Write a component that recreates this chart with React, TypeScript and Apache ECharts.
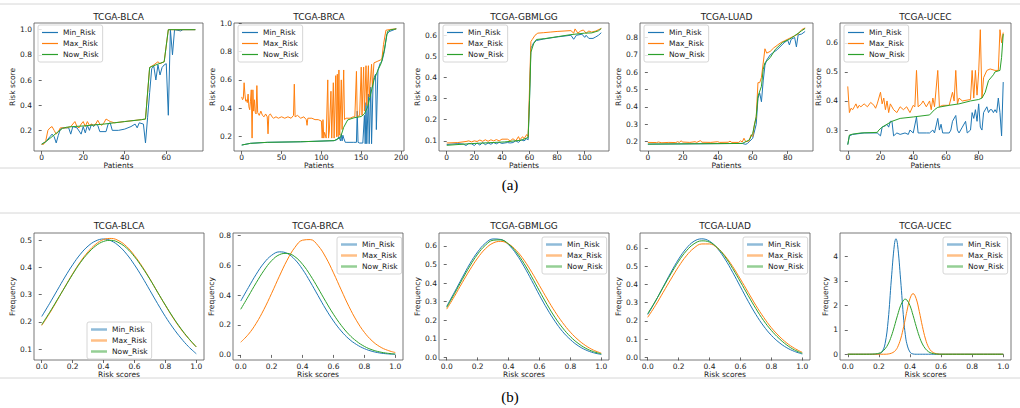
import React, { useEffect, useRef } from "react";
import * as echarts from "echarts";

// ---------- names & labels ----------
const seriesNames = ["Min_Risk", "Max_Risk", "Now_Risk"];
const seriesColors = ["#1f77b4", "#ff7f0e", "#2ca02c"];
const datasetNames = ["TCGA-BLCA", "TCGA-BRCA", "TCGA-GBMLGG", "TCGA-LUAD", "TCGA-UCEC"];
const captions = ["(a)", "(b)"];
const topXLabel = "Patients";
const topYLabel = "Risk score";
const bottomXLabel = "Risk scores";
const bottomYLabel = "Frequency";

// ---------- top row: risk score per patient ([patient, score]) ----------
const blcaMin = [[0,0.09],[2,0.11],[4,0.15],[5,0.17],[6,0.15],[7,0.10],[8,0.16],[9,0.21],[10,0.22],[13,0.22],[14,0.17],[15,0.23],[17,0.22],[19,0.17],[20,0.23],[21,0.18],[22,0.24],[23,0.2],[24,0.25],[25,0.23],[26,0.25],[27,0.24],[28,0.19],[31,0.19],[32,0.25],[33,0.26],[34,0.2],[37,0.2],[40,0.21],[43,0.23],[45,0.25],[46,0.22],[47,0.26],[49,0.25],[50,0.10],[51,0.3],[52,0.5],[53,0.69],[54,0.71],[55,0.6],[56,0.72],[57,0.64],[58,0.7],[59,0.72],[60,0.73],[61,0.32],[62,1.0],[63,0.8],[64,1.0],[67,0.99],[68,1.0],[74,1.0]];
const blcaMax = [[0,0.09],[1,0.09],[2,0.12],[3,0.2],[4,0.22],[5,0.23],[6,0.2],[7,0.17],[8,0.19],[9,0.22],[10,0.22],[12,0.22],[14,0.23],[16,0.27],[17,0.23],[18,0.22],[19,0.25],[20,0.27],[21,0.23],[22,0.27],[23,0.24],[24,0.25],[25,0.24],[26,0.25],[27,0.28],[28,0.25],[29,0.24],[30,0.26],[31,0.29],[32,0.28],[33,0.27],[35,0.26],[40,0.27],[48,0.285],[50,0.29],[52,0.70],[54,0.72],[56,0.745],[57,0.73],[59,0.745],[61,1.0],[74,1.0]];
const blcaNow = [[0,0.09],[2,0.11],[5,0.15],[8,0.19],[10,0.215],[12,0.225],[15,0.23],[20,0.235],[30,0.25],[40,0.27],[48,0.285],[50,0.29],[52,0.70],[55,0.72],[59,0.745],[61,1.0],[74,1.0]];

const brcaMin = [[0,0.141],[11,0.153],[32,0.16],[74,0.164],[116,0.172],[120,0.18],[122,0.2],[124,0.17],[125,0.22],[126,0.17],[127,0.21],[128,0.19],[130,0.16],[132,0.16],[140,0.16],[144,0.16],[145,0.38],[146,0.16],[148,0.155],[152,0.155],[154,0.35],[155,0.15],[156,0.44],[157,0.15],[159,0.5],[160,0.15],[162,0.55],[163,0.15],[165,0.6],[168,0.64],[169,0.25],[171,0.67],[174,0.72],[176,0.73],[179,0.8],[182,0.92],[185,0.94],[194,0.96]];
const brcaMax = [[0,0.48],[1,0.46],[2,0.47],[3,0.58],[4,0.5],[5,0.45],[6,0.46],[7,0.44],[8,0.5],[9,0.41],[10,0.39],[11,0.45],[12,0.53],[13,0.19],[14,0.53],[15,0.38],[16,0.46],[17,0.37],[18,0.36],[19,0.56],[20,0.37],[22,0.35],[24,0.38],[26,0.35],[28,0.34],[30,0.36],[32,0.34],[33,0.22],[34,0.35],[36,0.36],[38,0.34],[40,0.33],[43,0.34],[46,0.33],[50,0.34],[54,0.33],[58,0.34],[62,0.33],[65,0.35],[66,0.57],[67,0.34],[70,0.35],[74,0.33],[78,0.34],[81,0.32],[82,0.28],[83,0.33],[88,0.33],[92,0.32],[96,0.32],[100,0.31],[101,0.19],[102,0.32],[103,0.19],[104,0.23],[106,0.19],[108,0.6],[109,0.19],[110,0.24],[112,0.52],[113,0.19],[115,0.58],[116,0.19],[118,0.63],[119,0.2],[120,0.64],[121,0.2],[122,0.67],[123,0.21],[125,0.6],[126,0.25],[128,0.67],[129,0.32],[131,0.33],[136,0.33],[140,0.34],[142,0.34],[144,0.66],[145,0.34],[148,0.35],[150,0.69],[151,0.35],[153,0.69],[154,0.38],[156,0.7],[157,0.42],[159,0.7],[160,0.48],[163,0.71],[164,0.55],[166,0.72],[170,0.73],[174,0.74],[176,0.75],[178,0.85],[181,0.95],[186,0.955],[194,0.96]];
const brcaNow = [[0,0.141],[11,0.153],[32,0.16],[74,0.164],[116,0.172],[124,0.195],[128,0.266],[133,0.318],[141,0.333],[150,0.342],[154,0.361],[158,0.408],[162,0.503],[166,0.598],[171,0.669],[175,0.716],[179,0.811],[183,0.941],[187,0.953],[194,0.96]];

const gbmMin = [[0,0.083],[8,0.087],[12,0.085],[14,0.078],[16,0.088],[18,0.086],[20,0.078],[22,0.09],[24,0.08],[26,0.092],[28,0.082],[30,0.09],[32,0.084],[34,0.092],[36,0.086],[38,0.093],[40,0.088],[44,0.092],[46,0.09],[48,0.092],[50,0.1],[52,0.093],[54,0.105],[56,0.1],[58,0.11],[59,0.105],[60,0.3],[61,0.54],[62,0.55],[63,0.565],[65,0.575],[70,0.582],[80,0.592],[90,0.6],[92,0.581],[94,0.6],[98,0.605],[100,0.59],[101,0.6],[103,0.585],[106,0.585],[108,0.592],[110,0.6],[112,0.612]];
const gbmMax = [[0,0.09],[8,0.092],[14,0.097],[16,0.1],[18,0.095],[20,0.1],[22,0.097],[24,0.104],[26,0.098],[28,0.105],[30,0.098],[32,0.105],[34,0.1],[36,0.106],[38,0.1],[40,0.108],[44,0.108],[46,0.1],[48,0.11],[50,0.1],[52,0.12],[53,0.105],[55,0.12],[56,0.11],[58,0.13],[59,0.12],[60,0.35],[61,0.57],[62,0.58],[64,0.6],[66,0.61],[70,0.612],[75,0.615],[80,0.618],[85,0.62],[90,0.622],[92,0.61],[93,0.63],[95,0.61],[97,0.62],[99,0.625],[101,0.61],[103,0.62],[105,0.615],[108,0.62],[112,0.632]];
const gbmNow = [[0,0.079],[18,0.087],[42,0.095],[54,0.103],[59,0.116],[60,0.29],[61,0.52],[63,0.56],[65,0.58],[71,0.584],[81,0.594],[90,0.603],[100,0.61],[105,0.611],[110,0.621],[112,0.632]];

const luadMin = [[0,0.186],[54,0.19],[56,0.185],[57,0.19],[58,0.2],[60,0.22],[62,0.3],[63,0.45],[64,0.48],[65,0.43],[66,0.55],[67,0.64],[68,0.67],[70,0.7],[74,0.73],[78,0.77],[80,0.785],[81,0.757],[82,0.79],[84,0.8],[85,0.746],[86,0.815],[88,0.82],[90,0.835]];
const luadMax = [[0,0.196],[5,0.195],[6,0.198],[8,0.194],[12,0.196],[16,0.195],[17,0.2],[18,0.196],[19,0.205],[20,0.198],[24,0.196],[27,0.2],[28,0.196],[30,0.206],[31,0.197],[36,0.196],[40,0.2],[41,0.196],[46,0.197],[47,0.203],[48,0.196],[52,0.196],[53,0.205],[54,0.198],[55,0.22],[56,0.2],[58,0.205],[59,0.24],[60,0.23],[61,0.3],[62,0.34],[63,0.54],[64,0.54],[65,0.57],[67,0.735],[68,0.71],[70,0.72],[72,0.74],[74,0.755],[76,0.77],[78,0.78],[80,0.79],[82,0.8],[84,0.81],[86,0.82],[88,0.845],[90,0.855]];
const luadNow = [[0,0.186],[54,0.19],[58,0.21],[60,0.248],[62,0.345],[63,0.461],[65,0.519],[66,0.616],[67,0.655],[70,0.684],[73,0.732],[77,0.771],[81,0.79],[84,0.81],[88,0.839],[90,0.852]];

const ucecMin = [[0,0.25],[1,0.28],[3,0.285],[10,0.29],[18,0.29],[20,0.28],[21,0.31],[23,0.315],[24,0.32],[25,0.31],[26,0.33],[27,0.33],[28,0.28],[30,0.29],[32,0.285],[35,0.29],[37,0.285],[38,0.3],[40,0.29],[42,0.345],[43,0.29],[48,0.29],[50,0.29],[52,0.3],[53,0.29],[55,0.34],[56,0.3],[57,0.32],[58,0.29],[62,0.29],[63,0.3],[64,0.33],[66,0.35],[67,0.3],[68,0.29],[70,0.31],[72,0.33],[73,0.29],[75,0.3],[76,0.36],[77,0.34],[78,0.37],[79,0.33],[80,0.39],[81,0.31],[82,0.3],[83,0.36],[85,0.38],[86,0.36],[87,0.37],[88,0.37],[89,0.36],[90,0.37],[91,0.36],[92,0.41],[93,0.36],[94,0.28],[95,0.465]];
const ucecMax = [[0,0.45],[1,0.36],[2,0.375],[3,0.37],[4,0.38],[5,0.39],[6,0.375],[7,0.385],[8,0.38],[10,0.39],[12,0.38],[14,0.395],[16,0.385],[17,0.375],[18,0.39],[20,0.43],[21,0.39],[22,0.41],[23,0.37],[24,0.4],[25,0.36],[26,0.39],[28,0.37],[30,0.36],[32,0.38],[34,0.37],[36,0.38],[38,0.36],[40,0.385],[41,0.38],[42,0.505],[43,0.38],[45,0.39],[46,0.4],[48,0.38],[50,0.4],[51,0.37],[52,0.41],[53,0.38],[55,0.505],[56,0.38],[58,0.385],[62,0.385],[64,0.43],[65,0.4],[66,0.505],[67,0.39],[68,0.41],[70,0.4],[75,0.405],[76,0.505],[77,0.41],[78,0.505],[79,0.42],[80,0.5],[81,0.645],[82,0.41],[83,0.48],[85,0.505],[87,0.51],[90,0.505],[92,0.505],[93,0.645],[94,0.6],[95,0.635]];
const ucecNow = [[0,0.25],[1,0.283],[3,0.286],[8,0.29],[18,0.292],[19,0.3],[21,0.31],[24,0.32],[27,0.33],[32,0.34],[40,0.345],[50,0.352],[53,0.37],[55,0.378],[62,0.385],[68,0.39],[75,0.4],[80,0.405],[82,0.41],[84,0.43],[86,0.47],[89,0.49],[90,0.5],[93,0.505],[94,0.55],[95,0.63]];

// ---------- bottom row: frequency over risk scores ----------
const riskX = [0,0.05,0.1,0.15,0.2,0.25,0.3,0.35,0.4,0.45,0.5,0.55,0.6,0.65,0.7,0.75,0.8,0.85,0.9,0.95,1.0];
const blcaMinFreq = [0.22,0.267,0.316,0.365,0.41,0.449,0.479,0.498,0.505,0.498,0.479,0.449,0.41,0.365,0.316,0.267,0.22,0.178,0.141,0.109,0.083];
const blcaMaxFreq = [0.187,0.231,0.279,0.329,0.377,0.421,0.458,0.486,0.503,0.507,0.498,0.477,0.444,0.404,0.358,0.309,0.261,0.215,0.174,0.139,0.108];
const blcaNowFreq = [0.19,0.234,0.281,0.328,0.375,0.418,0.453,0.48,0.496,0.5,0.491,0.471,0.44,0.401,0.357,0.309,0.262,0.217,0.176,0.14,0.108];
const brcaMinFreq = [0.36,0.451,0.539,0.614,0.666,0.689,0.679,0.638,0.572,0.488,0.397,0.307,0.227,0.16,0.107,0.069,0.042,0.024,0.013,0.007,0.004];
const brcaMaxFreq = [0.085,0.138,0.211,0.304,0.412,0.526,0.633,0.718,0.767,0.771,0.731,0.653,0.549,0.435,0.324,0.228,0.151,0.094,0.055,0.031,0.016];
const brcaNowFreq = [0.305,0.393,0.482,0.564,0.63,0.67,0.679,0.657,0.606,0.533,0.447,0.357,0.272,0.198,0.137,0.091,0.057,0.034,0.02,0.011,0.006];
const gbmMinFreq = [0.275,0.351,0.429,0.505,0.568,0.615,0.638,0.635,0.607,0.557,0.49,0.414,0.335,0.261,0.195,0.139,0.096,0.063,0.04,0.025,0.016];
const gbmMaxFreq = [0.26,0.329,0.402,0.472,0.535,0.585,0.616,0.625,0.611,0.576,0.524,0.459,0.387,0.315,0.247,0.187,0.136,0.095,0.063,0.039,0.023];
const gbmNowFreq = [0.27,0.343,0.419,0.492,0.556,0.604,0.631,0.633,0.611,0.567,0.506,0.434,0.358,0.284,0.216,0.159,0.112,0.076,0.049,0.031,0.019];
const luadMinFreq = [0.235,0.308,0.387,0.466,0.539,0.598,0.637,0.65,0.637,0.598,0.539,0.466,0.387,0.308,0.235,0.172,0.121,0.082,0.053,0.033,0.019];
const luadMaxFreq = [0.22,0.285,0.357,0.429,0.498,0.557,0.6,0.622,0.622,0.6,0.557,0.498,0.429,0.357,0.285,0.22,0.163,0.117,0.079,0.05,0.028];
const luadNowFreq = [0.24,0.309,0.384,0.458,0.527,0.584,0.623,0.639,0.632,0.602,0.552,0.487,0.414,0.339,0.267,0.202,0.148,0.104,0.068,0.041,0.023];
const ucecX = [0,0.1,0.14,0.16,0.18,0.2,0.22,0.24,0.26,0.28,0.3,0.31,0.32,0.34,0.36,0.37,0.38,0.4,0.42,0.44,0.46,0.48,0.5,0.52,0.54,0.56,0.58,0.6,0.7,0.8,0.9,1.0];
const ucecMinFreq = [0,0,0,0,0,0.01,0.09,0.43,1.39,3.04,4.49,4.72,4.49,3.04,1.39,0.81,0.43,0.09,0.01,0,0,0,0,0,0,0,0,0,0,0,0,0];
const ucecMaxFreq = [0,0,0,0,0,0,0,0,0.01,0.04,0.11,0.18,0.28,0.62,1.14,1.44,1.75,2.27,2.48,2.27,1.75,1.14,0.62,0.28,0.11,0.04,0.01,0,0,0,0,0];
const ucecNowFreq = [0,0,0.001,0.005,0.015,0.04,0.1,0.22,0.42,0.73,1.14,1.37,1.59,1.99,2.22,2.25,2.22,1.99,1.59,1.14,0.73,0.42,0.22,0.1,0.04,0.015,0.005,0,0,0,0,0];

// ---------- tick values ----------
const topXTicks = [[0,20,40,60],[0,50,100,150,200],[0,20,40,60,80,100],[0,20,40,60,80],[0,20,40,60,80]];
const topYTicks = [[0.2,0.4,0.6,0.8,1.0],[0.2,0.4,0.6,0.8,1.0],[0.1,0.2,0.3,0.4,0.5,0.6],[0.2,0.3,0.4,0.5,0.6,0.7,0.8],[0.3,0.4,0.5,0.6]];
const bottomXTicks = [0,0.2,0.4,0.6,0.8,1.0];
const bottomYTicks = [[0.1,0.2,0.3,0.4,0.5],[0,0.2,0.4,0.6,0.8],[0,0.1,0.2,0.3,0.4,0.5,0.6],[0,0.1,0.2,0.3,0.4,0.5,0.6],[0,1,2,3,4]];

const topSeries = [[blcaMin, blcaMax, blcaNow],[brcaMin, brcaMax, brcaNow],[gbmMin, gbmMax, gbmNow],[luadMin, luadMax, luadNow],[ucecMin, ucecMax, ucecNow]];
const bottomSeries = [
  [blcaMinFreq, blcaMaxFreq, blcaNowFreq],
  [brcaMinFreq, brcaMaxFreq, brcaNowFreq],
  [gbmMinFreq, gbmMaxFreq, gbmNowFreq],
  [luadMinFreq, luadMaxFreq, luadNowFreq],
  [ucecMinFreq, ucecMaxFreq, ucecNowFreq],
];

// ---------- layout (pixels) ----------
const FONT = "DejaVu Sans";
const topLayout = [
  { left: 34, width: 169, xr: [-3.7, 77.7], yr: [0.036, 1.053], lg: [38, 25] },
  { left: 234, width: 170, xr: [-9.7, 203.7], yr: [0.099, 1.001], lg: [238, 25] },
  { left: 439, width: 170, xr: [-5.6, 117.6], yr: [0.052, 0.658], lg: [443, 25] },
  { left: 640, width: 173, xr: [-4.5, 94.5], yr: [0.1465, 0.8835], lg: [644, 25] },
  { left: 840, width: 171, xr: [-4.75, 99.75], yr: [0.228, 0.668], lg: [844, 25] },
];
const bottomLayout = [
  { left: 34, width: 170, yr: [0.06, 0.527], lg: [87, 322], gap: 16.5 },
  { left: 233, width: 170, yr: [-0.034, 0.815], lg: [337, 237], gap: 16.5 },
  { left: 439, width: 170, yr: [-0.014, 0.67], lg: [542, 237], gap: 16.5 },
  { left: 640, width: 170, yr: [-0.014, 0.682], lg: [743, 237], gap: 16.5 },
  { left: 840, width: 171, yr: [-0.236, 4.956], lg: [943, 237], gap: 10.5 },
];
const TOP_Y = 23, TOP_H = 128, BOT_Y = 233, BOT_H = 127;

function buildOption() {
  const grid: any[] = [], xAxis: any[] = [], yAxis: any[] = [], series: any[] = [], legend: any[] = [], graphic: any[] = [];
  const tickStyle = { color: "#444", width: 0.8 };
  const labelStyle = { fontSize: 7.5, color: "#222", fontFamily: FONT };

  const addPanel = (idx: number, g: any, xr: number[], yr: number[], xt: number[], yt: number[], xf: any, yf: any,
                    xName: string, yName: string, yGap: number, data: number[][][], smooth: boolean, lg: number[], bottom: boolean, title: string, titleY: number) => {
    grid.push({ left: g.left, top: g.top, width: g.width, height: g.height, show: true, borderColor: "#555", borderWidth: 0.8, backgroundColor: "rgba(0,0,0,0)" });
    xAxis.push({
      type: "value", gridIndex: idx, min: xr[0], max: xr[1],
      axisLine: { show: false },
      axisTick: { show: true, length: 3, lineStyle: tickStyle, customValues: xt },
      axisLabel: { ...labelStyle, margin: 2, customValues: xt, formatter: xf },
      splitLine: { show: false },
      name: xName, nameLocation: "middle", nameGap: 9, nameTextStyle: { ...labelStyle },
    });
    yAxis.push({
      type: "value", gridIndex: idx, min: yr[0], max: yr[1],
      axisLine: { show: false },
      axisTick: { show: true, length: 3, lineStyle: tickStyle, customValues: yt },
      axisLabel: { ...labelStyle, margin: 2, customValues: yt, formatter: yf },
      splitLine: { show: false },
      name: yName, nameLocation: "middle", nameGap: yGap, nameTextStyle: { ...labelStyle },
    });
    data.forEach((d, k) => {
      series.push({
        type: "line", name: seriesNames[k], xAxisIndex: idx, yAxisIndex: idx, data: d,
        symbol: "none", showSymbol: false, smooth: smooth ? 0.4 : false,
        lineStyle: { width: 1, color: seriesColors[k] }, itemStyle: { color: seriesColors[k] }, z: 2 + k,
      });
    });
    legend.push({
      data: seriesNames, orient: "vertical", left: lg[0], top: lg[1], selectedMode: false,
      icon: "rect", itemWidth: 16, itemHeight: bottom ? 2.5 : 1.2, itemGap: 2, padding: [3, 4, 3, 4],
      backgroundColor: "rgba(255,255,255,0.8)", borderColor: "#ccc", borderWidth: 0.8, borderRadius: 2,
      textStyle: { ...labelStyle, lineHeight: 9 },
      itemStyle: bottom ? { opacity: 0.5, borderWidth: 0 } : { borderWidth: 0 },
    });
    graphic.push({
      type: "text", x: g.left + g.width / 2, y: titleY, silent: true,
      style: { text: title, fill: "#222", font: `9px '${FONT}'`, textAlign: "center", textVerticalAlign: "middle", align: "center", verticalAlign: "middle" },
    });
  };

  const fmt1 = (v: number) => v.toFixed(1);
  const fmt0 = (v: number) => String(Math.round(v));

  topLayout.forEach((l, i) => {
    addPanel(i, { left: l.left, width: l.width, top: TOP_Y, height: TOP_H }, l.xr, l.yr, topXTicks[i], topYTicks[i], fmt0, fmt1,
      topXLabel, topYLabel, 16.5, topSeries[i], false, l.lg, false, datasetNames[i], 17);
  });
  bottomLayout.forEach((l, i) => {
    const xs = i === 4 ? ucecX : riskX;
    const data = bottomSeries[i].map((arr) => arr.map((v, j) => [xs[j], v]));
    addPanel(5 + i, { left: l.left, width: l.width, top: BOT_Y, height: BOT_H }, [-0.05, 1.05], l.yr, bottomXTicks, bottomYTicks[i], fmt1, i === 4 ? fmt0 : fmt1,
      bottomXLabel, bottomYLabel, l.gap, data, true, l.lg, true, datasetNames[i], 226);
  });

  // separator lines and captions
  [4, 168, 213, 378].forEach((y) => {
    graphic.push({ type: "line", silent: true, shape: { x1: 0, y1: y, x2: 1020, y2: y }, style: { stroke: "#d6d6d6", lineWidth: 1 } });
  });
  [[185, captions[0]], [397, captions[1]]].forEach(([y, t]) => {
    graphic.push({
      type: "text", x: 510, y: y as number, silent: true,
      style: { text: t as string, fill: "#000", font: "15px 'Liberation Serif'", textAlign: "center", textVerticalAlign: "middle", align: "center", verticalAlign: "middle" },
    });
  });

  return { animation: false, backgroundColor: "#fff", textStyle: { fontFamily: FONT }, grid, xAxis, yAxis, series, legend, graphic };
}

export default function App() {
  const ref = useRef<HTMLDivElement>(null);
  useEffect(() => {
    if (!ref.current) return;
    const chart = echarts.init(ref.current, undefined, { renderer: "svg" });
    chart.setOption(buildOption() as any);
    return () => chart.dispose();
  }, []);
  return <div ref={ref} style={{ position: "fixed", left: 0, top: 0, width: 1020, height: 408 }} />;
}
